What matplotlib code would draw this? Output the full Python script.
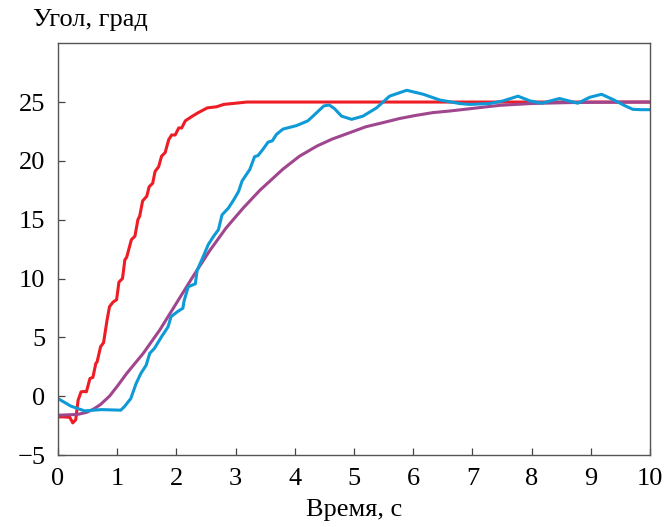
import matplotlib.pyplot as plt

plt.rcParams['font.family'] = ['Liberation Serif', 'DejaVu Serif']

# красная кривая
red_t = [0, 0.1, 0.2, 0.25, 0.30, 0.34, 0.39, 0.44, 0.48, 0.54, 0.59, 0.64, 0.66, 0.72,
         0.77, 0.83, 0.87, 0.93, 0.99, 1.03, 1.09, 1.13, 1.16, 1.24, 1.30, 1.35, 1.38,
         1.43, 1.50, 1.54, 1.60, 1.64, 1.70, 1.75, 1.81, 1.87, 1.92, 1.98, 2.04, 2.09,
         2.15, 2.27, 2.37, 2.52, 2.68, 2.80, 3.0, 3.19, 4.0, 6.0, 8.0, 10.0]
red_y = [-1.76, -1.76, -1.8, -2.27, -2.0, -0.34, 0.37, 0.4, 0.37, 1.5, 1.6, 2.8, 2.9, 4.2,
         4.55, 6.5, 7.6, 8.0, 8.2, 9.7, 10.0, 11.6, 11.8, 13.3, 13.6, 15.0, 15.3,
         16.6, 17.0, 17.8, 18.1, 19.1, 19.5, 20.4, 20.7, 21.8, 22.2, 22.2, 22.8, 22.8,
         23.4, 23.8, 24.1, 24.5, 24.6, 24.8, 24.9, 25.0, 25.0, 25.0, 25.0, 25.0]

# синяя кривая
blue_t = [0, 0.22, 0.45, 0.73, 1.06, 1.12, 1.23, 1.32, 1.40, 1.49, 1.55, 1.63, 1.75,
          1.86, 1.91, 2.02, 2.11, 2.13, 2.20, 2.32, 2.35, 2.43, 2.54, 2.63, 2.71, 2.77,
          2.88, 2.97, 3.05, 3.11, 3.24, 3.32, 3.38, 3.46, 3.55, 3.62, 3.69, 3.80, 4.03,
          4.22, 4.37, 4.49, 4.58, 4.67, 4.79, 4.96, 5.15, 5.38, 5.60, 5.89, 6.17, 6.45,
          6.79, 6.95, 7.29, 7.52, 7.77, 7.97, 8.17, 8.47, 8.78, 8.98, 9.18, 9.38, 9.57,
          9.71, 9.85, 10.0]
blue_y = [-0.2, -0.85, -1.25, -1.14, -1.19, -0.9, -0.2, 1.08, 1.93, 2.64, 3.64, 4.07, 5.06,
          5.9, 6.76, 7.19, 7.48, 8.1, 9.3, 9.55, 10.7, 11.6, 12.9, 13.6, 14.15, 15.4,
          16.0, 16.7, 17.4, 18.3, 19.27, 20.35, 20.46, 20.97, 21.6, 21.7, 22.25, 22.7, 23.0,
          23.4, 24.1, 24.67, 24.75, 24.44, 23.8, 23.53, 23.8, 24.5, 25.5, 26.0, 25.66, 25.17,
          24.87, 24.8, 24.87, 25.1, 25.5, 25.1, 24.9, 25.3, 24.9, 25.4, 25.66, 25.2, 24.7,
          24.38, 24.35, 24.35]

# фиолетовая кривая
purple_t = [0, 0.33, 0.48, 0.60, 0.72, 0.87, 1.01, 1.16, 1.44, 1.72, 2.0, 2.28, 2.56, 2.84,
            3.13, 3.41, 3.80, 4.08, 4.37, 4.63, 4.93, 5.20, 5.49, 5.77, 6.05, 6.33, 6.62,
            6.90, 7.46, 8.02, 8.60, 9.15, 10.0]
purple_y = [-1.62, -1.55, -1.38, -1.1, -0.7, 0.0, 0.9, 1.93, 3.64, 5.63, 7.9, 10.17, 12.35,
            14.3, 16.0, 17.5, 19.3, 20.4, 21.25, 21.85, 22.4, 22.9, 23.25, 23.6, 23.87, 24.1,
            24.24, 24.4, 24.72, 24.88, 24.95, 24.98, 25.0]

fig = plt.figure(figsize=(6.64, 5.27), dpi=100)
ax = fig.add_axes([0.0873, 0.1366, 0.8917, 0.7814])

ax.plot(red_t, red_y, color='#ee1c25', lw=2.2, solid_joinstyle='round')
ax.plot(purple_t, purple_y, color='#a0468e', lw=2.2, solid_joinstyle='round')
ax.plot(blue_t, blue_y, color='#0e9ad7', lw=2.2, solid_joinstyle='round')

ax.set_xlim(0, 10)
ax.set_ylim(-5, 30)
ax.set_xticks(range(0, 11))
ax.set_yticks(range(-5, 30, 5))
ax.tick_params(direction='in', length=5, width=0.9, labelsize=19, color='#444444',
               top=False, right=False, pad=9)
for s in ax.spines.values():
    s.set_color('#555555')
    s.set_linewidth(1.0)

ax.set_xlabel('Время, с', fontsize=19, labelpad=7)
fig.text(0.05, 0.962, 'Угол, град', fontsize=19, ha='left', va='center')

fig.savefig('out.png', dpi=100)
